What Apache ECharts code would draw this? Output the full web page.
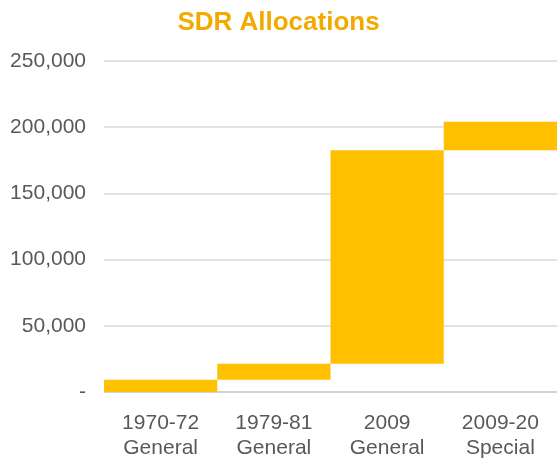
<!DOCTYPE html>
<html>
<head>
<meta charset="utf-8">
<script src="https://cdn.jsdelivr.net/npm/echarts@6/dist/echarts.min.js"></script>
<style>
    html, body { margin: 0; padding: 0; background: #fff; }
    #chart { width: 557px; height: 461px; }
</style>
</head>
<body>
<div id="chart"></div>
<script>
// SDR allocations, millions of SDR
const categories = ['1970-72\nGeneral', '1979-81\nGeneral', '2009\nGeneral', '2009-20\nSpecial'];
const allocations = [9315, 12063, 161200, 21500];
const yTicks = [0, 50000, 100000, 150000, 200000, 250000];

// waterfall: invisible base = running total before each allocation
const base = [];
let running = 0;
allocations.forEach(v => { base.push(running); running += v; });

const myChart = echarts.init(document.getElementById('chart'));
const option = {
    animation: false,
    title: {
        text: 'SDR Allocations',
        left: 'center',
        top: 5,
        textStyle: {
            color: '#F2AA00',
            fontSize: 26,
            fontWeight: 'bold',
            fontFamily: 'Liberation Sans',
        },
    },
    grid: {
        left: 104,
        right: 0,
        top: 61,
        bottom: 69,
    },
    xAxis: {
        type: 'category',
        data: categories,
        axisTick: {show: false},
        axisLine: {lineStyle: {color: '#d0d0d0', width: 1.5}},
        axisLabel: {
            color: '#595959',
            fontSize: 21,
            fontFamily: 'Liberation Sans',
            lineHeight: 25,
            margin: 19,
        },
    },
    yAxis: {
        type: 'value',
        min: yTicks[0],
        max: yTicks[yTicks.length - 1],
        interval: 50000,
        axisLine: {show: false},
        axisTick: {show: false},
        splitLine: {lineStyle: {color: '#d9d9d9', width: 1.5}},
        axisLabel: {
            color: '#595959',
            fontSize: 21,
            fontFamily: 'Liberation Sans',
            margin: 18,
            formatter: v => (v === 0 ? '-' : v.toLocaleString('en-US')),
        },
    },
    series: [
        {
            type: 'bar',
            stack: 'w',
            data: base,
            barCategoryGap: 0,
            itemStyle: {color: 'transparent'},
            silent: true,
        },
        {
            type: 'bar',
            stack: 'w',
            data: allocations,
            barCategoryGap: 0,
            itemStyle: {color: '#FFC000'},
        },
    ],
};
myChart.setOption(option);
</script>
</body>
</html>
